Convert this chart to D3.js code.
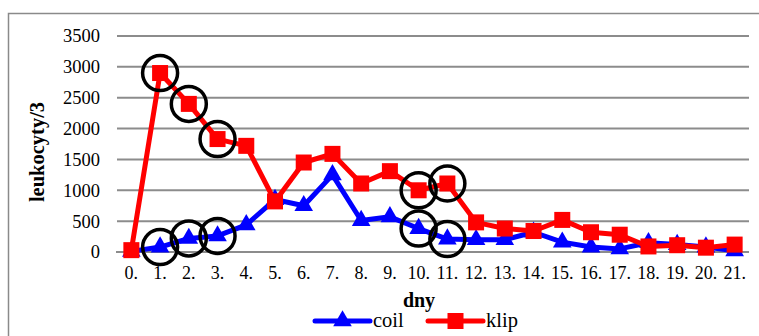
<!DOCTYPE html>
<html>
<head>
<meta charset="utf-8">
<script src="https://cdn.jsdelivr.net/npm/d3@7"></script>
<style>
  body { margin: 0; background: #fff; }
</style>
</head>
<body>
<div id="chart-area"></div>
<script>
// data
var days = ["0.", "1.", "2.", "3.", "4.", "5.", "6.", "7.", "8.", "9.", "10.",
            "11.", "12.", "13.", "14.", "15.", "16.", "17.", "18.", "19.", "20.", "21."]
var coil = [10, 80, 220, 260, 440, 850, 750, 1250, 510, 570, 380,
            210, 200, 200, 320, 160, 80, 50, 150, 120, 80, 20]
var klip = [30, 2900, 2400, 1830, 1720, 820, 1450, 1590, 1110, 1310, 1000,
            1110, 480, 380, 340, 520, 320, 280, 90, 110, 70, 120]
var yTicks = [0, 500, 1000, 1500, 2000, 2500, 3000, 3500]
var circled = [1, 2, 3, 10, 11]   // points marked with black rings

var FONT = "'Liberation Serif', 'Times New Roman', serif"

var W = 759, H = 336
var margin = { left: 117, right: 10, top: 36, bottom: 84 }
var width = W - margin.left - margin.right
var height = H - margin.top - margin.bottom

var svg = d3.select("#chart-area").append("svg")
    .attr("width", W)
    .attr("height", H)
    .style("font-family", FONT)

// outer border
svg.append("rect")
    .attr("x", 8.5).attr("y", 13.5)
    .attr("width", W).attr("height", H)
    .style("fill", "none")
    .style("stroke", "#8a8a8a")
    .style("stroke-width", 1.5)

var g = svg.append("g")
    .attr("transform", "translate(" + margin.left + "," + margin.top + ")")

var xScale = d3.scaleBand()
    .domain(days)
    .range([0, width])

var yScale = d3.scaleLinear()
    .domain([0, 3500])
    .range([height, 0])

// gridlines
g.selectAll(".grid").data(yTicks).enter()
    .append("line")
    .attr("class", "grid")
    .attr("x1", function(d) { return d === 0 ? -1 : 0 })
    .attr("x2", width)
    .attr("y1", function(d) { return yScale(d) })
    .attr("y2", function(d) { return yScale(d) })
    .style("stroke", "#8c8c8c")
    .style("stroke-width", 2)

// Y axis labels
var yAxisGroup = g.append("g")
    .call(d3.axisLeft(yScale).tickValues(yTicks).tickFormat(d3.format("d")).tickSize(0).tickPadding(17))
yAxisGroup.attr("font-family", null).attr("font-size", null)
yAxisGroup.select(".domain").remove()
yAxisGroup.selectAll("text")
    .style("font-family", FONT)
    .style("font-size", "18.5px")
    .style("fill", "#000")

// X axis labels
var xAxisGroup = g.append("g")
    .attr("transform", "translate(0," + height + ")")
    .call(d3.axisBottom(xScale).tickSize(0).tickPadding(14))
xAxisGroup.attr("font-family", null).attr("font-size", null)
xAxisGroup.select(".domain").remove()
xAxisGroup.selectAll("text")
    .style("font-family", FONT)
    .style("font-size", "18px")
    .style("fill", "#000")

// axis titles
g.append("text")
    .attr("transform", "rotate(-90)")
    .attr("x", -(152 - margin.top))
    .attr("y", 44 - margin.left)
    .style("text-anchor", "middle")
    .style("font-family", FONT)
    .style("font-weight", "bold")
    .style("font-size", "20.5px")
    .text("leukocyty/3")

svg.append("text")
    .attr("x", 419)
    .attr("y", 307)
    .style("text-anchor", "middle")
    .style("font-family", FONT)
    .style("font-weight", "bold")
    .style("font-size", "20px")
    .text("dny")

function cx(i) { return xScale(days[i]) + xScale.bandwidth() / 2 }

var line = d3.line()
    .x(function(d, i) { return cx(i) })
    .y(function(d) { return yScale(d) })

var tri = d3.symbol().type(d3.symbolTriangle).size(150)

// coil series
g.append("path")
    .datum(coil)
    .attr("d", line)
    .style("fill", "none")
    .style("stroke", "#0000ff")
    .style("stroke-width", 5)
    .style("stroke-linejoin", "round")
g.selectAll(".coilPt").data(coil).enter()
    .append("path")
    .attr("class", "coilPt")
    .attr("d", tri)
    .attr("transform", function(d, i) { return "translate(" + cx(i) + "," + yScale(d) + ")" })
    .style("fill", "#0000ff")

// klip series
g.append("path")
    .datum(klip)
    .attr("d", line)
    .style("fill", "none")
    .style("stroke", "#ff0000")
    .style("stroke-width", 5)
    .style("stroke-linejoin", "round")
g.selectAll(".klipPt").data(klip).enter()
    .append("rect")
    .attr("class", "klipPt")
    .attr("x", function(d, i) { return cx(i) - 8 })
    .attr("y", function(d) { return yScale(d) - 8 })
    .attr("width", 16).attr("height", 16)
    .style("fill", "#ff0000")

// black rings
var rings = []
circled.forEach(function(i) {
    rings.push({ i: i, v: klip[i] })
    rings.push({ i: i, v: coil[i] })
})
g.selectAll(".ring").data(rings).enter()
    .append("circle")
    .attr("class", "ring")
    .attr("cx", function(d) { return cx(d.i) })
    .attr("cy", function(d) { return yScale(d.v) })
    .attr("r", 17.5)
    .style("fill", "none")
    .style("stroke", "#000")
    .style("stroke-width", 3.5)

// legend
var legend = svg.append("g")
var items = [
    { name: "coil", color: "#0000ff", x: 315 },
    { name: "klip", color: "#ff0000", x: 428 }
]
items.forEach(function(it) {
    legend.append("line")
        .attr("x1", it.x).attr("x2", it.x + 55)
        .attr("y1", 321).attr("y2", 321)
        .style("stroke", it.color)
        .style("stroke-width", 5)
        .style("stroke-linecap", "round")
    if (it.name === "coil") {
        legend.append("path")
            .attr("d", tri)
            .attr("transform", "translate(" + (it.x + 27.5) + ",321)")
            .style("fill", it.color)
    } else {
        legend.append("rect")
            .attr("x", it.x + 19.5).attr("y", 313)
            .attr("width", 16).attr("height", 16)
            .style("fill", it.color)
    }
    legend.append("text")
        .attr("x", it.x + 58)
        .attr("y", 327)
        .style("font-family", FONT)
        .style("font-size", "20.5px")
        .text(it.name)
})
</script>
</body>
</html>
